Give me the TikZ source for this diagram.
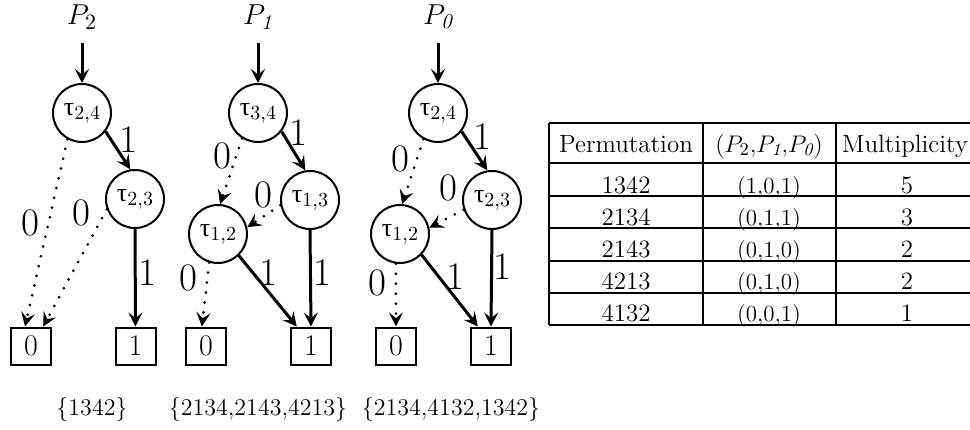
\documentclass[tikz,border=0pt]{standalone}
\usepackage{fontspec}
\newfontfamily\grk{Liberation Serif}
\usetikzlibrary{arrows.meta,calc}
\newcommand\tlab[1]{{\grk\fontsize{13}{15}\selectfont τ}\raisebox{-2pt}{\fontsize{10}{11}\selectfont #1}}
\begin{document}
\begin{tikzpicture}[x=0.5pt,y=-0.5pt,
  tnode/.style={circle,draw,line width=1pt,minimum size=29pt,inner sep=0pt},
  leaf/.style={draw,line width=1pt,minimum width=20pt,minimum height=18.5pt,inner sep=0pt,font=\fontsize{15}{17}\selectfont},
  hi/.style={line width=1.5pt,-{Stealth[length=7pt,width=7pt,inset=2.8pt]}},
  lo/.style={line width=1.5pt,line cap=round,dash pattern=on 0pt off 5pt,-{Stealth[length=7pt,width=7pt,inset=2.8pt]}},
  elab/.style={inner sep=0pt,font=\fontsize{19.5}{22}\selectfont},
  plab/.style={inner sep=0pt,font=\fontsize{15}{18}\selectfont},
  setlab/.style={inner sep=0pt,anchor=base,font=\fontsize{12}{14}\selectfont},
  cell/.style={inner sep=0pt,anchor=base,font=\fontsize{12.5}{14}\selectfont},
  cellsm/.style={inner sep=0pt,anchor=base,font=\fontsize{11.5}{13}\selectfont},
  grid/.style={line width=0.8pt}
]
\useasboundingbox (0,0) rectangle (970,429);
\clip (0,0) rectangle (970,429);

% ---------- group 1 ----------
\node[plab] (p2) at (82,17) {$P_2$};
\node[tnode] (A) at (82,113) {\tlab{2,4}};
\node[tnode] (B) at (135,199) {\tlab{2,3}};
\node[leaf] (C) at (31,346) {0};
\node[leaf] (D) at (135.5,346) {1};
\draw[hi] ($(p2)+(0,26)$) -- (A.north);
\draw[hi] (A.-38) -- (B.99);
\draw[lo] (A.-119) -- (C.107);
\draw[lo] (B.200) -- (C.58);
\draw[hi] (B.south) -- (D.north);
\node[elab] (l1) at (128,140) {1};
\node[elab] (l2) at (30,223) {0};
\node[elab] (l3) at (81,213) {0};
\node[elab] (l4) at (147,273) {1};
\node[setlab] (s1) at (92,415) {\{1342\}};

% ---------- group 2 ----------
\node[plab] (p1) at (258,17) {$P_{\mathit{1}}$};
\node[tnode] (E) at (258,113) {\tlab{3,4}};
\node[tnode] (F) at (310,200) {\tlab{1,3}};
\node[tnode] (G) at (218,234) {\tlab{1,2}};
\node[leaf] (H) at (206,346) {0};
\node[leaf] (I) at (311,346) {1};
\draw[hi] ($(p1)+(0,26)$) -- (E.north);
\draw[hi] (E.-38) -- (F.99);
\draw[lo] (E.238) -- (G.86);
\draw[lo] (F.190) -- (G.13);
\draw[hi] (F.south) -- (I.north);
\draw[hi] (G.-46) -- (I.126);
\draw[lo] (G.253) -- (H.102);
\node[elab] (l5) at (298,133) {1};
\node[elab] (l6) at (222,156) {0};
\node[elab] (l7) at (263,195) {0};
\node[elab] (l8) at (322,273) {1};
\node[elab] (l9) at (268,273) {1};
\node[elab] (l10) at (188,278) {0};
\node[setlab] (s2) at (258,415) {\{2134,2143,4213\}};

% ---------- group 3 ----------
\node[plab] (p0) at (438,17) {$P_{\mathit{0}}$};
\node[tnode] (J) at (438,113) {\tlab{2,4}};
\node[tnode] (K) at (492,200) {\tlab{2,3}};
\node[tnode] (L) at (400,234) {\tlab{1,2}};
\node[leaf] (M) at (396,346) {0};
\node[leaf] (N) at (491,346) {1};
\draw[hi] ($(p0)+(0,26)$) -- (J.north);
\draw[hi] (J.-38) -- (K.99);
\draw[lo] (J.241) -- (L.86);
\draw[lo] (K.199) -- (L.12);
\draw[hi] (K.south) -- (N.north);
\draw[hi] (L.-44) -- (N.124);
\draw[lo] (L.262) -- (M.north);
\node[elab] (l11) at (482,137) {1};
\node[elab] (l12) at (400,159) {0};
\node[elab] (l13) at (448,188) {0};
\node[elab] (l14) at (502,267) {1};
\node[elab] (l15) at (455,277) {1};
\node[elab] (l16) at (377,283) {0};
\node[setlab] (s3) at (451,415) {\{2134,4132,1342\}};

% ---------- table ----------
\foreach \yy in {123,163,196,228,261,293,325}
  \draw[grid] (549,\yy) -- (980,\yy);
\foreach \xx in {549,703,836,978}
  \draw[grid] (\xx,123) -- (\xx,325);
\node[cell] (h1) at (626,152) {Permutation};
\node[cell] (h2) at (769,152) {$(P_2{,}P_{\mathit{1}}{,}P_{\mathit{0}})$};
\node[cell] (h3) at (905,152) {Multiplicity};
\node[cell] (a1) at (626,193) {1342};
\node[cellsm] (b1) at (769,193) {(1,0,1)};
\node[cell] (c1) at (907,193) {5};
\node[cell] (a2) at (626,225) {2134};
\node[cellsm] (b2) at (769,225) {(0,1,1)};
\node[cell] (c2) at (907,225) {3};
\node[cell] (a3) at (626,257) {2143};
\node[cellsm] (b3) at (769,257) {(0,1,0)};
\node[cell] (c3) at (907,257) {2};
\node[cell] (a4) at (626,289) {4213};
\node[cellsm] (b4) at (769,289) {(0,1,0)};
\node[cell] (c4) at (907,289) {2};
\node[cell] (a5) at (626,321) {4132};
\node[cellsm] (b5) at (769,321) {(0,0,1)};
\node[cell] (c5) at (907,321) {1};
\end{tikzpicture}
\end{document}
